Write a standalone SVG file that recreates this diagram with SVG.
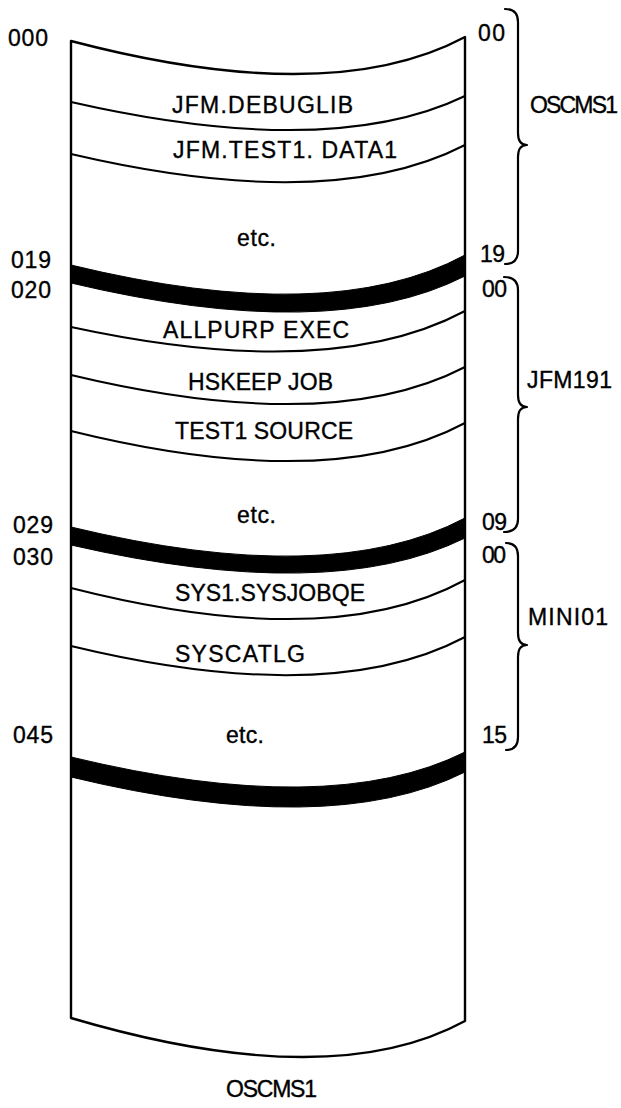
<svg xmlns="http://www.w3.org/2000/svg" width="621" height="1108" viewBox="0 0 621 1108">
  <style>
    text { font-family: "Liberation Sans", Arial, sans-serif; font-size: 23px; fill: #000; stroke: #000; stroke-width: 0.35; }
    .line { fill: none; stroke: #000; stroke-width: 2; stroke-linejoin: round; stroke-linecap: round; }
    .edge { fill: none; stroke: #000; stroke-width: 2.4; stroke-linejoin: round; stroke-linecap: round; }
    .band { fill: #000; stroke: #000; stroke-width: 1; }
    .brace { fill: none; stroke: #000; stroke-width: 2.2; stroke-linecap: round; stroke-linejoin: round; }
  </style>
  <rect x="0" y="0" width="621" height="1108" fill="#fff"/>

  <g id="volume">
    <path id="outline" class="edge" d="M71,41 Q330,109 465,37 L465,1021 Q330,1094.5 71,1018 Z"/>
    <g id="dividers">
      <path class="line" d="M71,102 Q330,161 465,96"/>
      <path class="line" d="M71,154 Q330,214.5 465,145"/>
      <path class="line" d="M71,327 Q330,383 465,311"/>
      <path class="line" d="M71,375 Q330,437 465,367"/>
      <path class="line" d="M71,431 Q330,495 465,423"/>
      <path class="line" d="M71,588 Q330,654 465,580"/>
      <path class="line" d="M71,646 Q330,708.5 465,637"/>
    </g>
    <g id="bands">
      <path class="band" d="M71,265 Q330,328 465,255 L465,276 Q330,344.5 71,283 Z"/>
      <path class="band" d="M71,527 Q330,589.5 465,518 L465,538 Q330,604.5 71,545 Z"/>
      <path class="band" d="M71,757 Q330,819.5 465,752 L465,772 Q330,839.5 71,777 Z"/>
    </g>
  </g>

  <g id="datasets">
    <text x="172" y="113" textLength="181">JFM.DEBUGLIB</text>
    <text x="173" y="158" textLength="224">JFM.TEST1. DATA1</text>
    <text x="237" y="246" textLength="39">etc.</text>
    <text x="163" y="338" textLength="186">ALLPURP EXEC</text>
    <text x="188" y="390" textLength="145">HSKEEP JOB</text>
    <text x="175" y="439" textLength="178">TEST1 SOURCE</text>
    <text x="237" y="523" textLength="39">etc.</text>
    <text x="175" y="601" textLength="190">SYS1.SYSJOBQE</text>
    <text x="175" y="662" textLength="130">SYSCATLG</text>
    <text x="226" y="743" textLength="38">etc.</text>
  </g>

  <g id="left-labels">
    <text x="8" y="46" textLength="40">000</text>
    <text x="11" y="268" textLength="40">019</text>
    <text x="11" y="298" textLength="40">020</text>
    <text x="13" y="533" textLength="40">029</text>
    <text x="13" y="565" textLength="40">030</text>
    <text x="13" y="743" textLength="40">045</text>
  </g>

  <g id="right-labels">
    <text x="478" y="41" textLength="27">00</text>
    <text x="480" y="262" textLength="25">19</text>
    <text x="482" y="297" textLength="25">00</text>
    <text x="482" y="530" textLength="25">09</text>
    <text x="482" y="563" textLength="24">00</text>
    <text x="482" y="743" textLength="25">15</text>
  </g>

  <g id="brace-oscms1">
    <path class="brace" d="M505,9 Q518,9 518,22 L518,133 Q518,145 527,145 Q518,145 518,157 L518,251 Q518,264 505,264"/>
    <text x="530" y="113" textLength="88">OSCMS1</text>
  </g>
  <g id="brace-jfm191">
    <path class="brace" d="M504,277 Q518,277 518,290 L518,395 Q518,407 527,407 Q518,407 518,419 L518,519 Q518,532 504,532"/>
    <text x="527" y="388" textLength="85">JFM191</text>
  </g>
  <g id="brace-mini01">
    <path class="brace" d="M506,543 Q518,543 518,556 L518,633 Q518,645 527,645 Q518,645 518,657 L518,737 Q518,750 506,750"/>
    <text x="528" y="625" textLength="80">MINI01</text>
  </g>

  <g id="caption">
    <text x="226" y="1097" textLength="91">OSCMS1</text>
  </g>
</svg>
